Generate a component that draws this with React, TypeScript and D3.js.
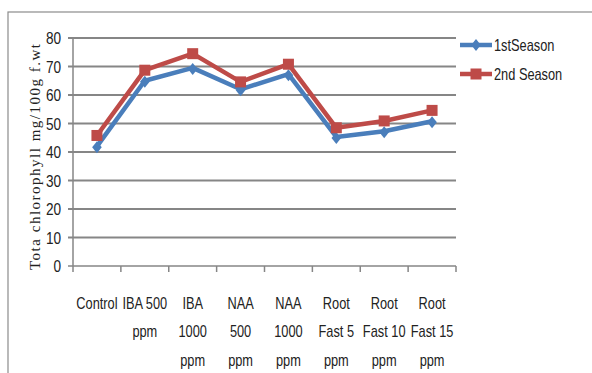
import React from "react";
import * as d3 from "d3";

const categories: string[][] = [
  ["Control"],
  ["IBA 500", "ppm"],
  ["IBA", "1000", "ppm"],
  ["NAA", "500", "ppm"],
  ["NAA", "1000", "ppm"],
  ["Root", "Fast 5", "ppm"],
  ["Root", "Fast 10", "ppm"],
  ["Root", "Fast 15", "ppm"],
];
const season1 = [42, 65, 69.5, 62, 67.3, 45.3, 47.3, 50.8];
const season2 = [45.8, 68.7, 74.5, 64.6, 70.8, 48.5, 50.9, 54.6];
const yTicks = [0, 10, 20, 30, 40, 50, 60, 70, 80];
const seriesNames = ["1stSeason", "2nd Season"];
const BLUE = "#4A7EBB";
const RED = "#BE4B48";

const sans = "'Liberation Sans', Arial, sans-serif";
const SX = 0.8; // horizontal squeeze for a narrow look

export default function App() {
  const W = 592, H = 373;
  const left = 73, right = 456, top = 38, bottom = 266;
  const x = d3.scaleBand<number>().domain(d3.range(categories.length)).range([left, right]);
  const y = d3.scaleLinear().domain([0, 80]).range([bottom, top]);
  const cx = (i: number) => (x(i) as number) + x.bandwidth() / 2;
  const line = d3.line<number>().x((_, i) => cx(i)).y((d) => y(d));

  const diamond = (px: number, py: number, r: number) =>
    `M${px},${py - r}L${px + r * 0.8},${py}L${px},${py + r}L${px - r * 0.8},${py}Z`;

  return (
    <svg width={W} height={H} style={{ position: "absolute", left: 0, top: 0, background: "#fff" }}>
      <rect x={8} y={12} width={W} height={H} fill="#fff" stroke="#8c8c8c" strokeWidth={1.2} />
      {yTicks.map((t) => (
        <g key={t}>
          <line x1={left - 5} x2={right} y1={y(t)} y2={y(t)} stroke="#868686" strokeWidth={t === 0 ? 1.5 : 2.2} />
          <text
            transform={`translate(61,${y(t)}) scale(${SX},1)`}
            dy="0.36em"
            textAnchor="end"
            fontFamily={sans}
            fontSize={17}
            fill="#222"
          >
            {t}
          </text>
        </g>
      ))}
      <line x1={left} x2={left} y1={top} y2={bottom} stroke="#868686" strokeWidth={1.5} />
      {d3.range(categories.length + 1).map((i) => {
        const xx = left + i * x.bandwidth();
        return <line key={i} x1={xx} x2={xx} y1={bottom} y2={bottom + 6} stroke="#868686" strokeWidth={1.5} />;
      })}
      {categories.map((lines, i) => (
        <text
          key={i}
          transform={`translate(${cx(i)},0) scale(${SX},1)`}
          textAnchor="middle"
          fontFamily={sans}
          fontSize={16}
          fill="#222"
        >
          {lines.map((l, j) => (
            <tspan key={j} x={0} y={309 + j * 28.5}>
              {l}
            </tspan>
          ))}
        </text>
      ))}
      <text
        transform={`translate(40,157) rotate(-90)`}
        textAnchor="middle"
        fontFamily="'Liberation Serif', 'DejaVu Serif', serif"
        fontSize={15}
        textLength={226}
        lengthAdjust="spacing"
        fill="#222"
      >
        Tota chlorophyll mg/100g f.wt
      </text>
      <path d={line(season1) || ""} fill="none" stroke={BLUE} strokeWidth={4.5} strokeLinejoin="round" />
      {season1.map((v, i) => (
        <path key={i} d={diamond(cx(i), y(v) + 1, 6)} fill={BLUE} />
      ))}
      <path d={line(season2) || ""} fill="none" stroke={RED} strokeWidth={4.5} strokeLinejoin="round" />
      {season2.map((v, i) => (
        <rect key={i} x={cx(i) - 5.5} y={y(v) - 5.5} width={11} height={11} fill={RED} />
      ))}
      {/* legend */}
      <g>
        <line x1={460} x2={492} y1={45} y2={45} stroke={BLUE} strokeWidth={4.5} />
        <path d={diamond(476, 45, 6)} fill={BLUE} />
        <text transform={`translate(494,45) scale(${SX},1)`} dy="0.36em" fontFamily={sans} fontSize={16} fill="#222">
          {seriesNames[0]}
        </text>
        <line x1={460} x2={492} y1={74} y2={74} stroke={RED} strokeWidth={4.5} />
        <rect x={470.5} y={68.5} width={11} height={11} fill={RED} />
        <text transform={`translate(494,74) scale(${SX},1)`} dy="0.36em" fontFamily={sans} fontSize={16} fill="#222">
          {seriesNames[1]}
        </text>
      </g>
    </svg>
  );
}
